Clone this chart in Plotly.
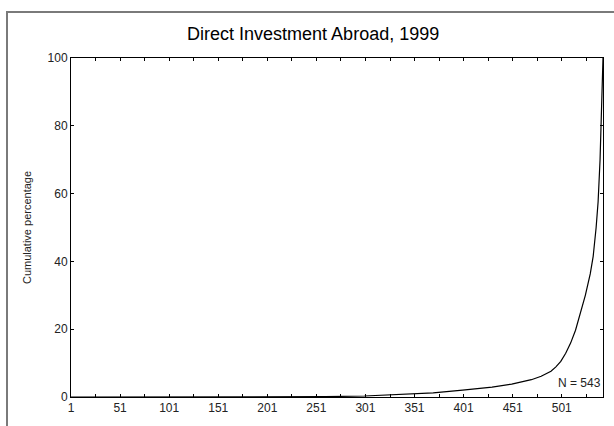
import plotly.graph_objects as go

# Cumulative percentage of direct investment abroad by rank (N = 543)
rank = [1, 100, 200, 230, 260, 300, 330, 350, 370, 400, 430, 450, 470, 480,
        490, 495, 500, 505, 510, 515, 520, 525, 530, 533, 536, 538, 540, 541, 542, 543]
cum_pct = [0, 0, 0, 0.05, 0.1, 0.3, 0.6, 0.85, 1.2, 2.0, 2.9, 3.8, 5.1, 6.1,
           7.6, 8.9, 10.5, 12.9, 15.9, 19.7, 24.7, 30.0, 36.3, 41.5, 50.0, 57.5, 70.0, 78.0, 88.0, 100.0]

x_tickvals = [1, 51, 101, 151, 201, 251, 301, 351, 401, 451, 501]
y_tickvals = [0, 20, 40, 60, 80, 100]

title_text = "Direct Investment Abroad, 1999"
y_title = "Cumulative percentage"
n_label = "N = 543"

fig = go.Figure()
fig.add_trace(go.Scatter(x=rank, y=cum_pct, mode="lines",
                         line=dict(color="black", width=1.2), hoverinfo="skip",
                         showlegend=False))

font_family = "Liberation Sans, Arial, sans-serif"

fig.update_layout(
    width=614, height=426,
    margin=dict(l=71, r=11, t=58, b=29),
    paper_bgcolor="white", plot_bgcolor="white",
    font=dict(family=font_family, color="#222222", size=12),
    title=dict(text=title_text, x=0.51, xanchor="center", y=0.922, yanchor="middle",
               font=dict(family=font_family, size=18, color="black")),
    showlegend=False,
)

fig.update_xaxes(
    range=[1, 543], tickmode="array", tickvals=x_tickvals,
    ticks="inside", ticklen=3, tickcolor="black",
    minor=dict(tickmode="linear", tick0=26, dtick=50, ticks="inside", ticklen=3, tickcolor="black"),
    showline=True, linecolor="black", linewidth=1, mirror="allticks",
    showgrid=False, zeroline=False,
    tickfont=dict(size=12, color="#222222"),
)
fig.update_yaxes(
    range=[0, 100], tickmode="array", tickvals=y_tickvals,
    ticks="inside", ticklen=3, tickcolor="black",
    showline=True, linecolor="black", linewidth=1, mirror="allticks",
    showgrid=False, zeroline=False,
    tickfont=dict(size=12, color="#222222"),
    title=dict(text=y_title, font=dict(size=11, color="#222222"), standoff=13),
)

fig.add_annotation(text=n_label, xref="paper", yref="paper", x=1.0, y=0.015,
                   xanchor="right", yanchor="bottom", showarrow=False,
                   font=dict(size=12, color="#222222"))

# outer grey frame
fig.add_shape(type="rect", xref="paper", yref="paper",
              x0=-0.1203, x1=1.03, y0=-0.1, y1=1.1357,
              line=dict(color="#7a7a7a", width=2), fillcolor="rgba(0,0,0,0)", layer="below")

fig.write_html("out.html", config={"displayModeBar": False},
               post_script="document.body.style.margin='0';document.body.style.padding='0';")
